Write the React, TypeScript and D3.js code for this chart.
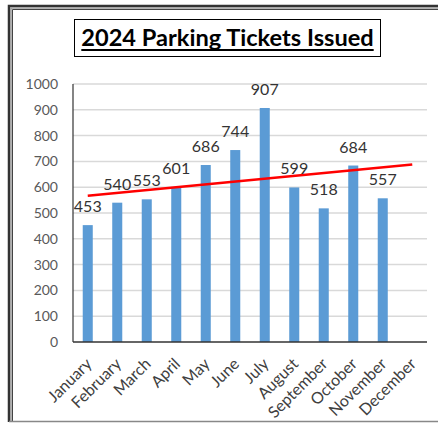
import React, { useEffect, useRef } from 'react';
import * as d3 from 'd3';

const months = ['January', 'February', 'March', 'April', 'May', 'June', 'July',
  'August', 'September', 'October', 'November', 'December'];
const tickets = [453, 540, 553, 601, 686, 744, 907, 599, 518, 684, 557];
const yTicks = [0, 100, 200, 300, 400, 500, 600, 700, 800, 900, 1000];
const title = '2024 Parking Tickets Issued';

const W = 438;
const H = 424;
const margin = { top: 84, right: 11, bottom: 82, left: 73 };

// least squares trend over the months that have data, extended to the last category
function trend(values: number[]) {
  const xs = values.map((_, i) => i + 1);
  const mx = d3.mean(xs) as number;
  const my = d3.mean(values) as number;
  let sxy = 0, sxx = 0;
  xs.forEach((x, i) => { sxy += (x - mx) * (values[i] - my); sxx += (x - mx) * (x - mx); });
  const slope = sxy / sxx;
  return (x: number) => my + slope * (x - mx);
}

export default function App() {
  const ref = useRef<SVGSVGElement>(null);

  useEffect(() => {
    const svg = d3.select(ref.current);
    svg.selectAll('*').remove();

    const width = W - margin.left - margin.right;
    const height = H - margin.top - margin.bottom;

    // outer frame
    const frame = svg.append('g');
    frame.append('path').attr('d', `M9,${H - 2} V6 H${W}`).attr('fill', 'none')
      .attr('stroke', '#333').attr('stroke-width', 2.5);
    frame.append('path').attr('d', `M11,${H - 2} V8 H${W}`).attr('fill', 'none')
      .attr('stroke', '#999').attr('stroke-width', 1.5);
    frame.append('path').attr('d', `M12.5,${H - 2} V9.5 H${W}`).attr('fill', 'none')
      .attr('stroke', '#444').attr('stroke-width', 1);
    frame.append('line').attr('x1', 9).attr('x2', W).attr('y1', H - 2.5).attr('y2', H - 2.5)
      .attr('stroke', '#888').attr('stroke-width', 1.5);

    // title in a box
    const tg = svg.append('g');
    const tText = tg.append('text')
      .attr('x', 227.5).attr('y', 46)
      .attr('text-anchor', 'middle')
      .style('font', 'bold 23.6px Lato')
      .attr('fill', '#000')
      .text(title);
    const bb = (tText.node() as SVGTextElement).getBBox();
    tg.append('line').attr('x1', bb.x).attr('x2', bb.x + bb.width)
      .attr('y1', 50).attr('y2', 50).attr('stroke', '#000').attr('stroke-width', 2);
    tg.append('rect').attr('x', 74.5).attr('y', 19.5).attr('width', 306).attr('height', 37)
      .attr('fill', 'none').attr('stroke', '#000').attr('stroke-width', 1);

    const g = svg.append('g').attr('transform', `translate(${margin.left},${margin.top})`);

    const x = d3.scaleBand().domain(months).range([0, width]).paddingInner(0.66).paddingOuter(0.33);
    const y = d3.scaleLinear().domain([0, 1000]).range([height, 0]);

    // gridlines
    g.append('g').selectAll('line').data(yTicks.filter(d => d > 0)).enter().append('line')
      .attr('x1', 0).attr('x2', width)
      .attr('y1', d => y(d)).attr('y2', d => y(d))
      .attr('stroke', '#d9d9d9').attr('stroke-width', 1.5);

    // y labels
    g.append('g').selectAll('text').data(yTicks).enter().append('text')
      .attr('x', -15).attr('y', d => y(d)).attr('dy', '0.35em')
      .attr('text-anchor', 'end')
      .style('font', '14px Lato').attr('fill', '#595959')
      .text(d => d);

    // bars
    g.append('g').selectAll('rect').data(tickets).enter().append('rect')
      .attr('x', (d, i) => x(months[i]) as number)
      .attr('width', x.bandwidth())
      .attr('y', d => y(d))
      .attr('height', d => height - y(d))
      .attr('fill', '#5b9bd5');

    // axes lines
    g.append('line').attr('x1', 0).attr('x2', 0).attr('y1', 0).attr('y2', height)
      .attr('stroke', '#333').attr('stroke-width', 1.2);
    g.append('line').attr('x1', 0).attr('x2', width).attr('y1', height).attr('y2', height)
      .attr('stroke', '#333').attr('stroke-width', 1.5);

    // trend line
    const t = trend(tickets);
    const cx = (m: string) => (x(m) as number) + x.bandwidth() / 2;
    const line = d3.line<string>()
      .x(m => cx(m))
      .y(m => y(t(months.indexOf(m) + 1)));
    g.append('path').datum([months[0], months[months.length - 1]])
      .attr('d', line).attr('fill', 'none')
      .attr('stroke', '#ff0000').attr('stroke-width', 2.5);

    // value labels
    g.append('g').selectAll('text').data(tickets).enter().append('text')
      .attr('x', (d, i) => cx(months[i]))
      .attr('y', d => y(d) - 13)
      .attr('text-anchor', 'middle')
      .style('font', '16px Lato').attr('fill', '#333')
      .text(d => d);

    // month labels
    g.append('g').selectAll('text').data(months).enter().append('text')
      .attr('transform', m => `translate(${cx(m) + 1},${height + 19}) rotate(-45)`)
      .attr('text-anchor', 'end')
      .attr('dy', '0.35em')
      .style('font', '16px Lato').attr('fill', '#404040')
      .text(m => m);
  }, []);

  return (
    <svg ref={ref} width={W} height={H}
      style={{ position: 'absolute', left: 0, top: 0, background: '#fff' }} />
  );
}
